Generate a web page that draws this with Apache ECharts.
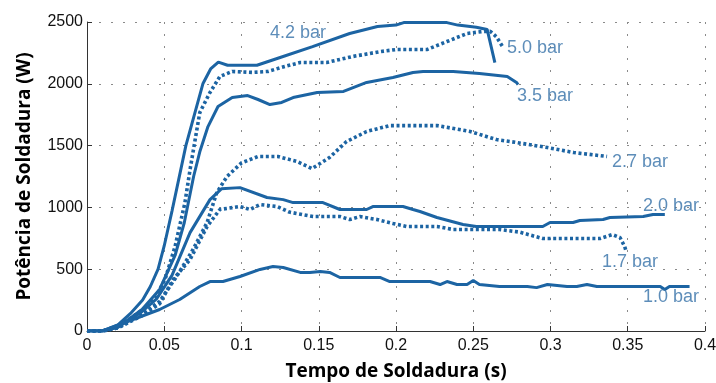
<!DOCTYPE html>
<html><head><meta charset="utf-8">
<script src="https://cdn.jsdelivr.net/npm/echarts@6/dist/echarts.min.js"></script>
<style>html,body{margin:0;padding:0;background:#fff}#c{width:716px;height:383px}</style>
</head><body><div id="c"></div>
<script>
// Data: [time (s), power (W)]
const bar42 = [[0,0],[0.01,0],[0.02,50],[0.028,140],[0.036,250],[0.041,360],[0.046,500],[0.05,690],[0.055,970],[0.064,1500],[0.075,2000],[0.08,2120],[0.085,2175],[0.091,2150],[0.11,2150],[0.125,2213],[0.146,2301],[0.17,2407],[0.188,2464],[0.2,2475],[0.205,2495],[0.233,2495],[0.24,2475],[0.252,2458],[0.259,2440],[0.264,2172]];
const bar50 = [[0,0],[0.01,0],[0.02,40],[0.027,93],[0.039,198],[0.045,290],[0.0505,417],[0.057,684],[0.0634,1039],[0.0667,1306],[0.07,1548],[0.073,1767],[0.0796,1930],[0.086,2059],[0.094,2100],[0.107,2092],[0.117,2100],[0.128,2140],[0.138,2172],[0.155,2172],[0.172,2221],[0.19,2261],[0.2,2277],[0.22,2277],[0.233,2342],[0.246,2407],[0.256,2423],[0.261,2425],[0.265,2380],[0.269,2300]];
const bar35 = [[0,0],[0.01,0],[0.02,30],[0.0356,174],[0.047,336],[0.057,611],[0.063,878],[0.069,1250],[0.073,1450],[0.0783,1654],[0.0848,1816],[0.094,1889],[0.104,1905],[0.1107,1873],[0.1184,1832],[0.126,1849],[0.1334,1889],[0.149,1930],[0.166,1938],[0.181,2011],[0.198,2051],[0.211,2092],[0.2175,2100],[0.237,2100],[0.254,2084],[0.272,2059],[0.278,2011],[0.279,1994]];
const bar27 = [[0,0],[0.01,0],[0.02,25],[0.035,130],[0.047,240],[0.058,441],[0.0686,659],[0.0777,877],[0.084,1120],[0.0906,1250],[0.1,1360],[0.1107,1412],[0.1236,1412],[0.136,1371],[0.1456,1314],[0.157,1404],[0.168,1533],[0.181,1614],[0.196,1662],[0.2265,1662],[0.248,1614],[0.265,1549],[0.278,1525],[0.298,1484],[0.315,1444],[0.3366,1412]];
const bar20 = [[0,0],[0.01,0],[0.02,30],[0.035,150],[0.045,260],[0.055,450],[0.0667,796],[0.0796,1063],[0.087,1150],[0.099,1160],[0.1165,1080],[0.127,1063],[0.1334,1039],[0.1527,1039],[0.1637,983],[0.181,983],[0.185,1007],[0.2045,1007],[0.211,983],[0.2155,967],[0.2265,918],[0.2434,862],[0.252,845],[0.295,845],[0.2997,878],[0.3146,878],[0.319,894],[0.334,902],[0.3385,918],[0.36,926],[0.3663,942],[0.374,942]];
const bar17 = [[0,0],[0.01,0],[0.02,25],[0.035,120],[0.047,220],[0.0557,417],[0.0667,578],[0.0777,845],[0.086,983],[0.099,1007],[0.1055,983],[0.112,1023],[0.123,1007],[0.131,962],[0.1463,926],[0.1637,926],[0.17,902],[0.1767,926],[0.1877,902],[0.198,870],[0.207,845],[0.2265,845],[0.237,821],[0.267,821],[0.28,800],[0.295,748],[0.332,748],[0.34,780],[0.345,756],[0.348,684],[0.349,643]];
const bar10 = [[0,0],[0.01,0],[0.0298,93],[0.047,174],[0.06,255],[0.073,360],[0.0796,400],[0.088,400],[0.099,441],[0.112,498],[0.1204,522],[0.127,514],[0.138,474],[0.1443,474],[0.151,481],[0.157,474],[0.1637,433],[0.1896,433],[0.196,400],[0.222,400],[0.2285,376],[0.233,400],[0.2395,376],[0.246,376],[0.25,408],[0.254,376],[0.267,360],[0.285,360],[0.291,351],[0.298,376],[0.3107,360],[0.317,360],[0.3236,376],[0.33,360],[0.371,360],[0.374,335],[0.377,360],[0.39,360]];
const seriesNames = ['4.2 bar','5.0 bar','3.5 bar','2.7 bar','2.0 bar','1.7 bar','1.0 bar'];
const xTicks = ['0','0.05','0.1','0.15','0.2','0.25','0.3','0.35','0.4'];
const yTicks = ['0','500','1000','1500','2000','2500'];

const seriesData = [bar42, bar50, bar35, bar27, bar20, bar17, bar10];
const dotted = [false, true, false, true, false, true, false];
// annotation anchors (data coordinates) for curve labels
const labelAnchors = [[0.1184,2407],[0.2718,2293],[0.2783,1905],[0.3398,1371],[0.3599,1015],[0.3333,554],[0.3599,271]];

const LINE = '#1c64a3';
const TXT = '#3570a8';
const series = seriesData.map((d, i) => ({
  type: 'line', name: seriesNames[i], data: d, symbol: 'none', smooth: false,
  lineStyle: dotted[i] ? {color: LINE, width: 3.6, type: [3, 2.6], cap: 'butt'} : {color: LINE, width: 3},
  z: 3
}));
series.push({
  type: 'scatter', symbolSize: 0, silent: true, z: 5,
  data: labelAnchors.map((p, i) => ({value: p, name: seriesNames[i]})),
  label: {show: true, position: 'right', distance: 0, formatter: p => p.name,
    color: TXT, fontSize: 18, fontFamily: 'Liberation Sans, Arial, sans-serif', align: 'left', verticalAlign: 'middle'}
});

const chart = echarts.init(document.getElementById('c'), null, {renderer: 'canvas'});
chart.setOption({
  animation: false,
  backgroundColor: '#fff',
  grid: {left: 87, right: 11, top: 22, bottom: 52, containLabel: false, outerBoundsMode: 'none'},
  xAxis: {
    type: 'value', min: 0, max: 0.4, interval: 0.05,
    name: 'Tempo de Soldadura (s)', nameLocation: 'middle', nameGap: 31,
    nameTextStyle: {fontFamily: 'Open Sans', fontWeight: 'bold', fontSize: 19, color: '#000'},
    axisLine: {show: true, onZero: false, lineStyle: {color: '#333', width: 1}},
    axisTick: {show: true, inside: true, length: 5, lineStyle: {color: '#333'}},
    axisLabel: {margin: 7, fontSize: 16, color: '#111', fontFamily: 'Liberation Sans, Arial, sans-serif',
      formatter: (v) => xTicks[Math.round(v / 0.05)]},
    splitLine: {show: true, lineStyle: {color: '#8a8a8a', width: 1, type: [2, 10]}}
  },
  yAxis: {
    type: 'value', min: 0, max: 2500, interval: 500,
    name: 'Potência de Soldadura (W)', nameLocation: 'middle', nameGap: 53, nameRotate: 90,
    nameTextStyle: {fontFamily: 'Open Sans', fontWeight: 'bold', fontSize: 19, color: '#000'},
    axisLine: {show: true, lineStyle: {color: '#333', width: 1}},
    axisTick: {show: true, inside: true, length: 5, lineStyle: {color: '#333'}},
    axisLabel: {margin: 4, fontSize: 16, color: '#111', fontFamily: 'Liberation Sans, Arial, sans-serif',
      formatter: (v) => yTicks[Math.round(v / 500)]},
    splitLine: {show: true, lineStyle: {color: '#8a8a8a', width: 1, type: [2, 10]}}
  },
  series: series
});
</script></body></html>
